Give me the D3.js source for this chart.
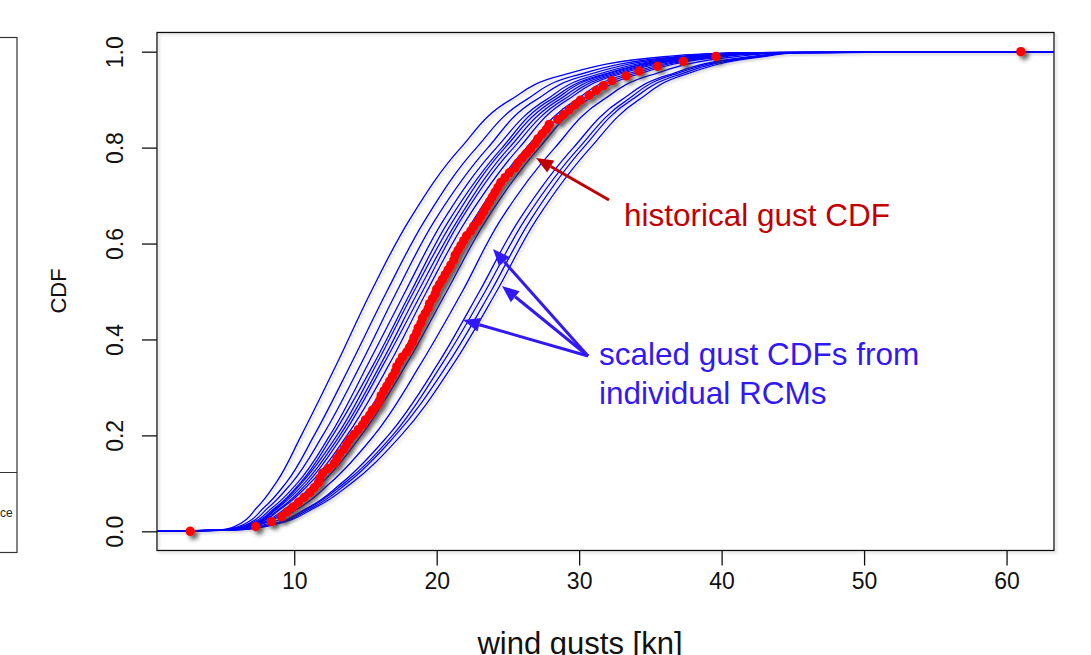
<!DOCTYPE html>
<html>
<head>
<meta charset="utf-8">
<script src="https://cdn.jsdelivr.net/npm/d3@7"></script>
<style>
  body { margin: 0; background: #fff; }
  svg { font-family: "Liberation Sans", Arial, sans-serif; }
</style>
</head>
<body>
<svg id="chart" width="1091" height="655"></svg>
<script>
var levels = [0, 0.003, 0.01, 0.05, 0.1, 0.2, 0.35, 0.5, 0.65, 0.8, 0.9, 0.95, 0.99, 0.998, 1];

var rcmCurves = [
  [0.4, 4.8, 5.8, 7.4, 8.7, 10.5, 13.0, 15.4, 18.1, 21.7, 25.2, 28.7, 36.1, 41.1, 63.3],
  [0.4, 5.0, 6.1, 7.9, 9.4, 11.4, 14.0, 16.5, 19.2, 22.8, 26.3, 29.7, 37.0, 41.6, 63.3],
  [0.4, 5.1, 6.3, 8.2, 9.8, 12.0, 14.7, 17.2, 19.9, 23.6, 27.0, 30.4, 37.5, 42.0, 63.3],
  [0.4, 5.2, 6.4, 8.5, 10.2, 12.5, 15.2, 17.8, 20.5, 24.2, 27.7, 31.0, 38.0, 42.3, 63.3],
  [0.4, 5.2, 6.5, 8.7, 10.4, 12.7, 15.6, 18.2, 20.9, 24.6, 28.0, 31.4, 38.3, 42.5, 63.3],
  [0.4, 5.2, 6.6, 8.8, 10.5, 13.0, 15.8, 18.4, 21.2, 24.8, 28.3, 31.6, 38.5, 42.6, 63.3],
  [0.4, 5.3, 6.7, 8.9, 10.7, 13.2, 16.1, 18.7, 21.5, 25.1, 28.6, 31.9, 38.7, 42.8, 63.3],
  [0.4, 5.3, 6.7, 9.1, 10.9, 13.4, 16.3, 19.0, 21.7, 25.4, 28.9, 32.2, 38.9, 42.9, 63.3],
  [0.4, 5.4, 6.8, 9.2, 11.1, 13.7, 16.7, 19.3, 22.1, 25.8, 29.2, 32.5, 39.2, 43.1, 63.3],
  [0.4, 5.4, 6.9, 9.5, 11.4, 14.1, 17.2, 19.9, 22.6, 26.3, 29.8, 33.0, 39.6, 43.3, 63.3],
  [0.4, 5.5, 7.0, 9.7, 11.6, 14.4, 17.5, 20.2, 23.0, 26.7, 30.2, 33.4, 39.9, 43.5, 63.3],
  [0.4, 5.5, 7.1, 9.9, 11.9, 14.7, 17.9, 20.7, 23.5, 27.2, 30.6, 33.8, 40.3, 43.8, 63.3],
  [0.4, 5.7, 7.4, 10.4, 12.5, 15.6, 18.9, 21.8, 24.5, 28.3, 31.7, 34.9, 41.1, 44.3, 63.3],
  [0.4, 5.8, 7.7, 11.0, 13.3, 16.6, 20.1, 23.0, 25.8, 29.6, 33.0, 36.1, 42.1, 44.9, 63.3],
  [0.4, 5.9, 7.8, 11.1, 13.5, 16.9, 20.4, 23.4, 26.2, 30.0, 33.4, 36.4, 42.4, 45.1, 63.3],
  [0.4, 5.9, 7.9, 11.3, 13.7, 17.1, 20.8, 23.8, 26.6, 30.3, 33.7, 36.8, 42.7, 45.3, 63.3],
  [0.4, 6.0, 8.0, 11.5, 14.0, 17.5, 21.2, 24.2, 27.0, 30.8, 34.2, 37.2, 43.0, 45.5, 63.3]
];

// historical gusts, sorted (kn)
var gustObs = [
  2.7, 7.3, 8.4, 9.1, 9.5, 9.9, 10.3, 10.7, 11.1, 11.4,
  11.7, 11.8, 12.0, 12.4, 12.8, 13.0, 13.2, 13.5, 13.7, 13.9,
  14.2, 14.5, 14.8, 15.0, 15.3, 15.5, 15.8, 16.0, 16.1, 16.3,
  16.5, 16.7, 16.9, 17.1, 17.2, 17.4, 17.6, 17.9, 18.1, 18.3,
  18.4, 18.6, 18.7, 18.9, 19.0, 19.2, 19.4, 19.5, 19.7, 19.9,
  20.0, 20.2, 20.4, 20.6, 20.8, 21.0, 21.2, 21.3, 21.5, 21.7,
  21.9, 22.1, 22.4, 22.6, 22.9, 23.1, 23.3, 23.5, 23.7, 23.9,
  24.1, 24.3, 24.5, 24.8, 25.1, 25.5, 25.7, 26.0, 26.3, 26.6,
  26.9, 27.1, 27.4, 27.7, 27.9, 28.5, 28.9, 29.3, 29.7, 30.1,
  30.7, 31.2, 31.7, 32.3, 33.3, 34.2, 35.5, 37.3, 39.6, 61.0
];

var xTicks = [10, 20, 30, 40, 50, 60];
var yTicks = [0, 0.2, 0.4, 0.6, 0.8, 1.0];

var redCol = "#c00000";
var blueCol = "#3218f5";

var svg = d3.select("#chart");

var x = d3.scaleLinear().domain([0.368, 63.33]).range([157, 1054]);
var y = d3.scaleLinear().domain([-0.04, 1.04]).range([550.5, 32.5]);

var defs = svg.append("defs");
defs.append("clipPath").attr("id", "plotclip")
  .append("rect").attr("x", 157).attr("y", 32.5).attr("width", 897).attr("height", 518);

var sh = defs.append("filter").attr("id", "shadow")
  .attr("x", "-50%").attr("y", "-50%").attr("width", "200%").attr("height", "200%");
sh.append("feDropShadow").attr("dx", 3.5).attr("dy", 3.5).attr("stdDeviation", 2)
  .attr("flood-color", "#333").attr("flood-opacity", 0.75);

var shLight = defs.append("filter").attr("id", "shadowLight")
  .attr("x", "-5%").attr("y", "-5%").attr("width", "110%").attr("height", "110%");
shLight.append("feDropShadow").attr("dx", 2).attr("dy", 2).attr("stdDeviation", 1.2)
  .attr("flood-color", "#888").attr("flood-opacity", 0.35);

// cropped neighbour panel on the left
svg.append("rect").attr("x", -50).attr("y", 37.5).attr("width", 67).attr("height", 515)
  .attr("fill", "none").attr("stroke", "#333").attr("stroke-width", 1.2);
svg.append("line").attr("x1", -50).attr("x2", 17).attr("y1", 472.5).attr("y2", 472.5)
  .attr("stroke", "#333").attr("stroke-width", 1.2);
svg.append("text").attr("x", 0).attr("y", 517)
  .attr("font-size", 12).attr("fill", "#222").text("ce");

// plot frame
svg.append("rect").attr("x", 157).attr("y", 32.5).attr("width", 897).attr("height", 518)
  .attr("fill", "none").attr("stroke", "#111").attr("stroke-width", 1.3)
  .attr("filter", "url(#shadowLight)");

// axes
var xAxis = svg.append("g").attr("transform", "translate(0,550.5)")
  .call(d3.axisBottom(x).tickValues(xTicks).tickSize(15).tickSizeOuter(0).tickPadding(7));
xAxis.select(".domain").remove();
xAxis.selectAll("line").attr("stroke", "#111").attr("stroke-width", 1.3);
xAxis.selectAll("text").attr("font-size", 23).attr("fill", "#111")
  .attr("font-family", "Liberation Sans, Arial, sans-serif");

var yAxis = svg.append("g").attr("transform", "translate(157,0)")
  .call(d3.axisLeft(y).tickValues(yTicks).tickSize(15).tickSizeOuter(0).tickFormat(d3.format(".1f")));
yAxis.select(".domain").remove();
yAxis.selectAll("line").attr("stroke", "#111").attr("stroke-width", 1.3);
yAxis.selectAll("text")
  .attr("font-size", 23).attr("fill", "#111")
  .attr("font-family", "Liberation Sans, Arial, sans-serif")
  .attr("x", null).attr("dy", null)
  .attr("text-anchor", "middle")
  .attr("transform", "translate(-34,0) rotate(-90)");

// axis titles
svg.append("text").attr("transform", "translate(66,291) rotate(-90)")
  .attr("text-anchor", "middle").attr("font-size", 22).attr("fill", "#111").text("CDF");
svg.append("text").attr("x", 580).attr("y", 654)
  .attr("text-anchor", "middle").attr("font-size", 31).attr("fill", "#111").text("wind gusts [kn]");

// RCM curves
var plot = svg.append("g").attr("clip-path", "url(#plotclip)");
var curveLine = d3.line()
  .x(function (d) { return x(d[0]); })
  .y(function (d) { return y(d[1]); })
  .curve(d3.curveMonotoneY);

plot.append("g").attr("filter", "url(#shadowLight)")
  .selectAll("path")
  .data(rcmCurves)
  .enter()
  .append("path")
  .attr("d", function (q) {
    return curveLine(q.map(function (v, i) { return [v, levels[i]]; }));
  })
  .attr("fill", "none")
  .attr("stroke", "#0000ff")
  .attr("stroke-width", 1.35);

// historical empirical CDF
var n = gustObs.length;
plot.append("g").attr("filter", "url(#shadow)")
  .selectAll("circle")
  .data(gustObs)
  .enter()
  .append("circle")
  .attr("cx", function (d) { return x(d); })
  .attr("cy", function (d, i) { return y(i / (n - 1)); })
  .attr("r", 4.7)
  .attr("fill", "#ff0000");

// annotations
function arrow(x1, y1, x2, y2, col) {
  var ang = Math.atan2(y2 - y1, x2 - x1);
  var len = 17, half = 7;
  var bx = x2 - len * Math.cos(ang), by = y2 - len * Math.sin(ang);
  svg.append("line").attr("x1", x1).attr("y1", y1).attr("x2", bx).attr("y2", by)
    .attr("stroke", col).attr("stroke-width", 3);
  var pts = [
    [x2, y2],
    [bx + half * Math.sin(ang), by - half * Math.cos(ang)],
    [bx - half * Math.sin(ang), by + half * Math.cos(ang)]
  ];
  svg.append("polygon").attr("points", pts.map(function (p) { return p.join(","); }).join(" "))
    .attr("fill", col);
}

arrow(609, 200, 536, 158, redCol);
svg.append("text").attr("x", 624).attr("y", 226).attr("font-size", 31.5)
  .attr("fill", redCol).text("historical gust CDF");

arrow(588, 356, 493, 249, blueCol);
arrow(588, 356, 502, 286, blueCol);
arrow(588, 356, 463, 320, blueCol);
svg.append("text").attr("x", 599).attr("y", 365).attr("font-size", 31.5)
  .attr("fill", blueCol).text("scaled gust CDFs from");
svg.append("text").attr("x", 599).attr("y", 404).attr("font-size", 31.5)
  .attr("fill", blueCol).text("individual RCMs");
</script>
</body>
</html>
